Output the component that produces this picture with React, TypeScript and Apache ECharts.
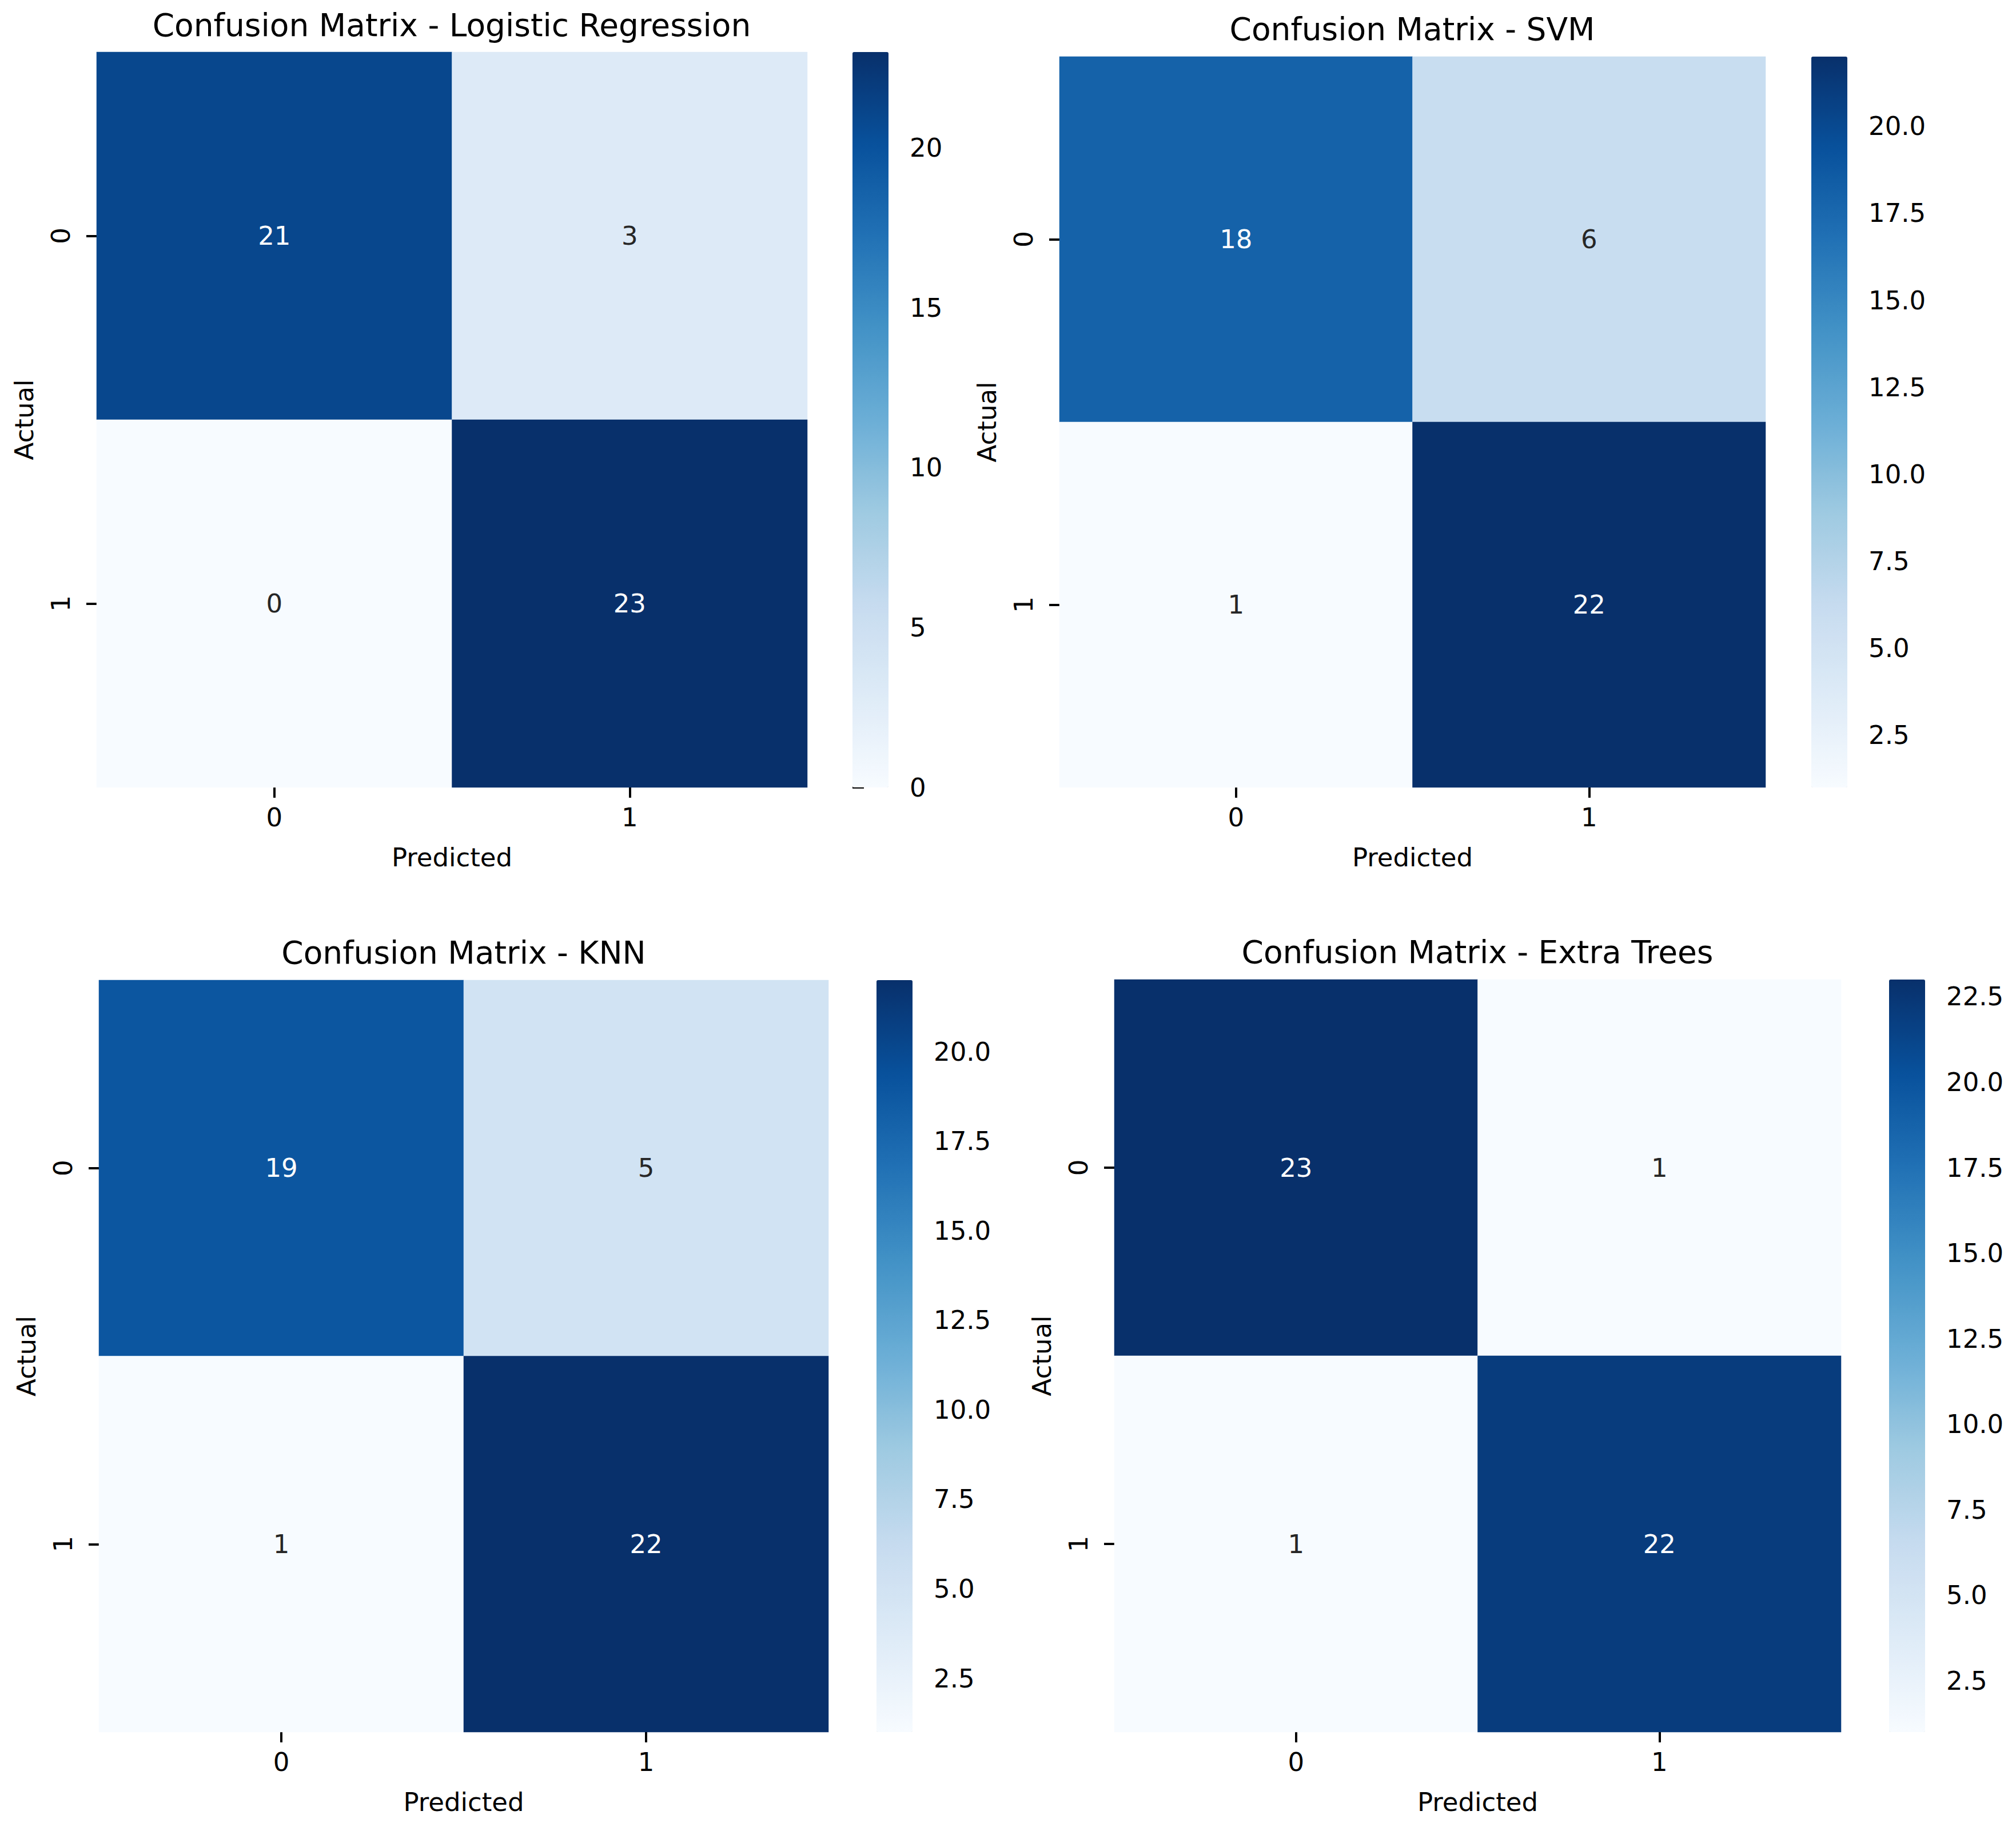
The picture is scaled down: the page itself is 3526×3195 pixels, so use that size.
import React, { useEffect, useRef } from "react";
import * as echarts from "echarts";

// ---------- data ----------
const panelTitles = [
  "Confusion Matrix - Logistic Regression",
  "Confusion Matrix - SVM",
  "Confusion Matrix - KNN",
  "Confusion Matrix - Extra Trees",
];
const classLabels = ["0", "1"];
const lrMatrix = [
  [21, 3],
  [0, 23],
];
const svmMatrix = [
  [18, 6],
  [1, 22],
];
const knnMatrix = [
  [19, 5],
  [1, 22],
];
const etMatrix = [
  [23, 1],
  [1, 22],
];
const lrColorbarTicks = [0, 5, 10, 15, 20];
const svmColorbarTicks = [2.5, 5, 7.5, 10, 12.5, 15, 17.5, 20];
const knnColorbarTicks = [2.5, 5, 7.5, 10, 12.5, 15, 17.5, 20];
const etColorbarTicks = [2.5, 5, 7.5, 10, 12.5, 15, 17.5, 20, 22.5];
const xAxisTitle = "Predicted";
const yAxisTitle = "Actual";

// matplotlib "Blues" colormap anchors
const blues = [
  "#f7fbff",
  "#deebf7",
  "#c6dbef",
  "#9ecae1",
  "#6baed6",
  "#4292c6",
  "#2171b5",
  "#08519c",
  "#08306b",
];

// ---------- layout (pixels) ----------
const layouts = [
  { gl: 169, gt: 91, gw: 1243, gh: 1286, cbl: 1491, tx: 790, ty: 44 },
  { gl: 1853, gt: 99, gw: 1235, gh: 1278, cbl: 3168, tx: 2470, ty: 51 },
  { gl: 173, gt: 1714, gw: 1276, gh: 1315, cbl: 1533, tx: 811, ty: 1666 },
  { gl: 1949, gt: 1713, gw: 1271, gh: 1316, cbl: 3304, tx: 2584, ty: 1665 },
];
const CB_W = 63;
const FONT = "DejaVu Sans";
const TICK_FS = 45;
const TITLE_FS = 55;

const matrices = [lrMatrix, svmMatrix, knnMatrix, etMatrix];
const cbTicks = [lrColorbarTicks, svmColorbarTicks, knnColorbarTicks, etColorbarTicks];

function buildOption() {
  const grid: any[] = [];
  const xAxis: any[] = [];
  const yAxis: any[] = [];
  const series: any[] = [];
  const visualMap: any[] = [];
  const title: any[] = [];

  matrices.forEach((m, i) => {
    const L = layouts[i];
    const flat = m.flat();
    const vmin = Math.min(...flat);
    const vmax = Math.max(...flat);
    const ticks = cbTicks[i];
    const decimals = ticks.some((t) => !Number.isInteger(t)) ? 1 : 0;

    grid.push({ left: L.gl, top: L.gt, width: L.gw, height: L.gh, containLabel: false });
    grid.push({ left: L.cbl, top: L.gt, width: CB_W, height: L.gh, containLabel: false });

    xAxis.push({
      type: "category",
      gridIndex: 2 * i,
      data: classLabels,
      position: "bottom",
      axisLine: { show: false },
      axisTick: { show: true, alignWithLabel: true, length: 18, lineStyle: { color: "#000", width: 4 } },
      axisLabel: { fontSize: TICK_FS, color: "#000", margin: 30, fontFamily: FONT },
      splitLine: { show: false },
      name: xAxisTitle,
      nameLocation: "middle",
      nameGap: 100,
      nameTextStyle: { fontSize: TICK_FS, color: "#000", fontFamily: FONT },
    });
    xAxis.push({ type: "value", gridIndex: 2 * i + 1, show: false, min: 0, max: 1 });

    yAxis.push({
      type: "category",
      gridIndex: 2 * i,
      data: classLabels,
      inverse: true,
      position: "left",
      axisLine: { show: false },
      axisTick: { show: true, alignWithLabel: true, length: 18, lineStyle: { color: "#000", width: 4 } },
      axisLabel: { fontSize: TICK_FS, color: "#000", margin: 40, rotate: 90, fontFamily: FONT },
      splitLine: { show: false },
      name: yAxisTitle,
      nameLocation: "middle",
      nameGap: 104,
      nameTextStyle: { fontSize: TICK_FS, color: "#000", fontFamily: FONT },
    });
    yAxis.push({
      type: "value",
      gridIndex: 2 * i + 1,
      position: "right",
      min: vmin,
      max: vmax,
      axisLine: { show: false },
      splitLine: { show: false },
      axisTick: {
        show: true,
        length: 20,
        customValues: ticks,
        lineStyle: { color: "#000", width: 4 },
      },
      axisLabel: {
        show: true,
        customValues: ticks,
        margin: 37,
        fontSize: TICK_FS,
        color: "#000",
        fontFamily: FONT,
        formatter: (v: number) => Number(v).toFixed(decimals),
      },
    });

    const data: any[] = [];
    m.forEach((row, r) => {
      row.forEach((v, c) => {
        const t = (v - vmin) / (vmax - vmin);
        data.push({
          value: [c, r, v],
          label: { color: t > 0.5 ? "#ffffff" : "#262626" },
        });
      });
    });
    series.push({
      type: "heatmap",
      xAxisIndex: 2 * i,
      yAxisIndex: 2 * i,
      data,
      label: { show: true, fontSize: TICK_FS, fontFamily: FONT, formatter: (p: any) => String(p.value[2]) },
      itemStyle: { borderWidth: 0 },
      emphasis: { disabled: true },
    });

    visualMap.push({
      type: "continuous",
      seriesIndex: i,
      dimension: 2,
      min: vmin,
      max: vmax,
      calculable: false,
      orient: "vertical",
      left: L.cbl,
      top: L.gt,
      itemWidth: CB_W,
      itemHeight: L.gh,
      padding: 0,
      inRange: { color: blues },
      hoverLink: false,
    });

    title.push({
      text: panelTitles[i],
      left: L.tx,
      top: L.ty,
      padding: 0,
      textAlign: "center",
      textVerticalAlign: "middle",
      textStyle: { fontSize: TITLE_FS, fontWeight: "normal", color: "#000", fontFamily: FONT },
    });
  });

  return {
    animation: false,
    backgroundColor: "#ffffff",
    textStyle: { fontFamily: FONT },
    title,
    grid,
    xAxis,
    yAxis,
    visualMap,
    series,
  };
}

export default function App() {
  const ref = useRef<HTMLDivElement>(null);
  useEffect(() => {
    document.body.style.margin = "0";
    const chart = echarts.init(ref.current!, null, { renderer: "svg" });
    chart.setOption(buildOption() as any);
    return () => chart.dispose();
  }, []);
  return <div ref={ref} style={{ width: 3526, height: 3195 }} />;
}
